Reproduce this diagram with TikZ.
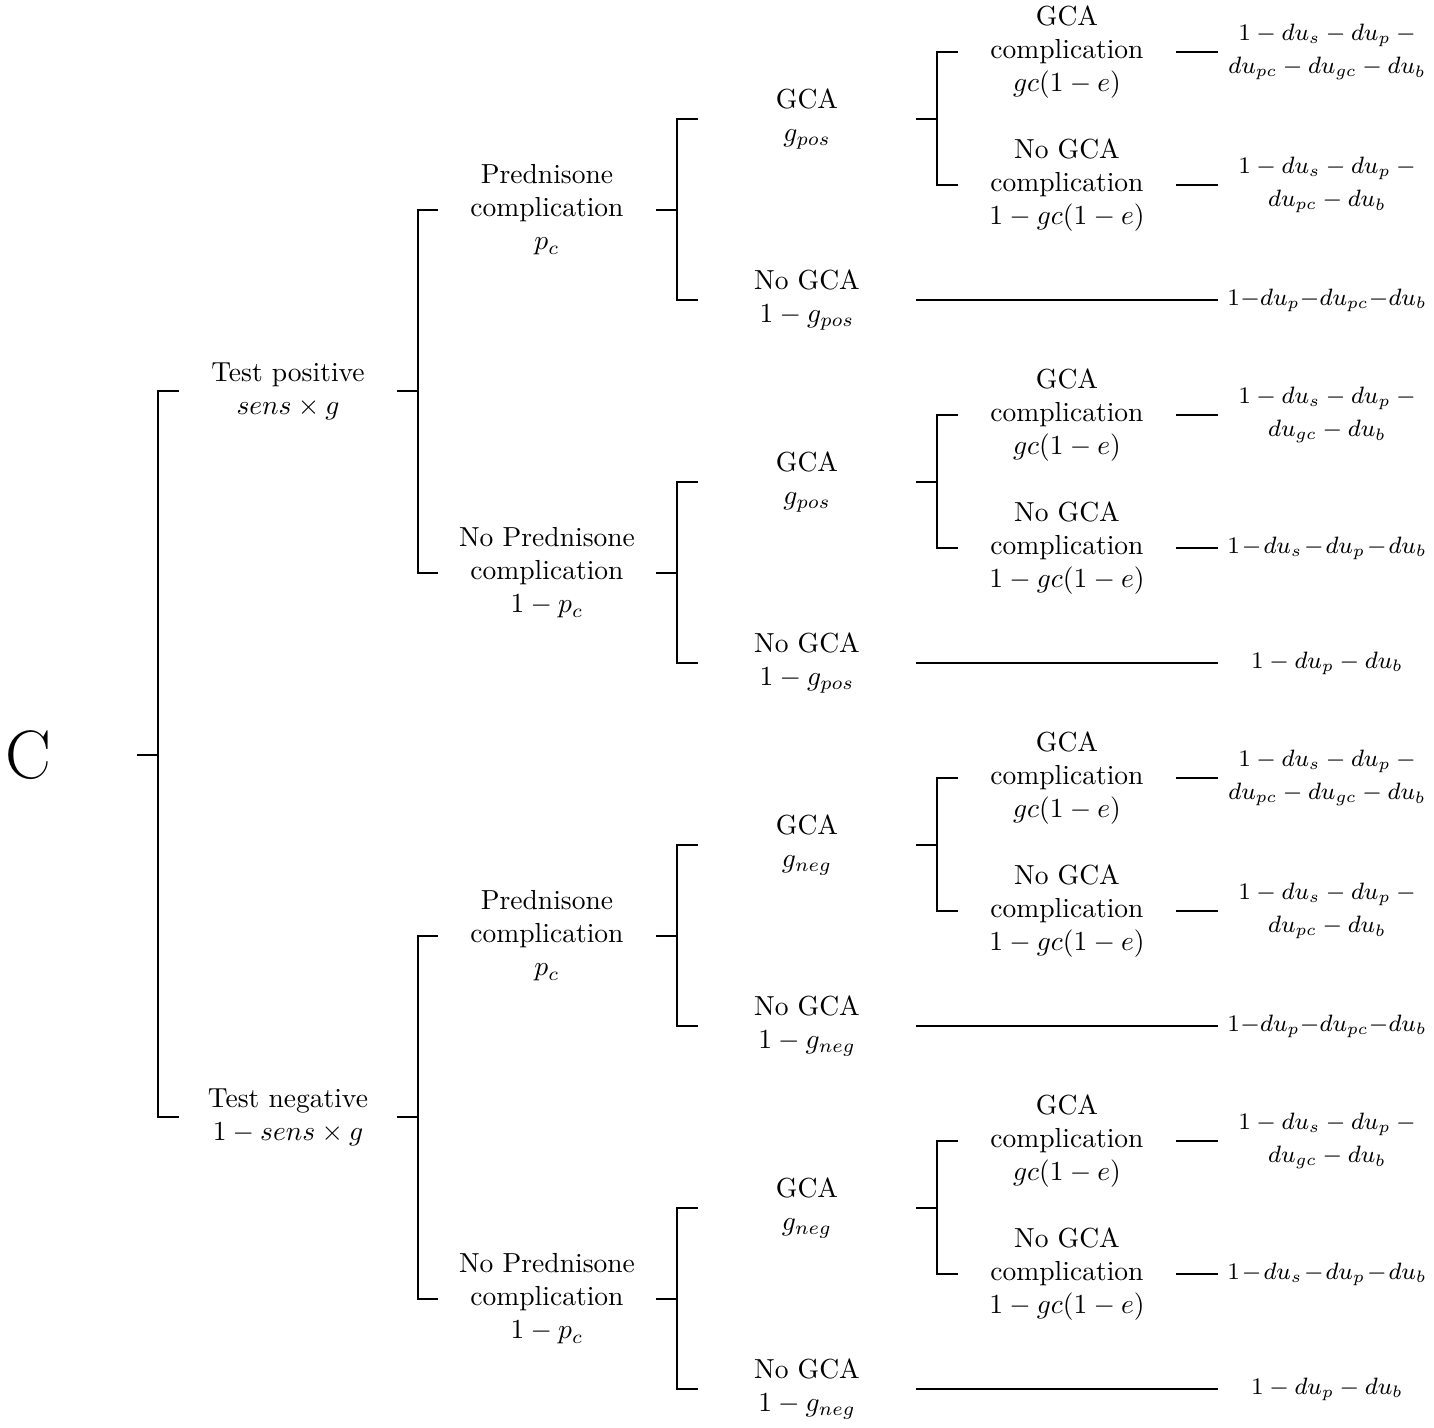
\RequirePackage{fix-cm}
\documentclass[tikz,border=0pt]{standalone}
\usepackage{tikz}

\begin{document}
\begin{tikzpicture}[
  x=0.363pt, y=-0.363pt,
  choice/.style={text width=1in, align=flush center, inner sep=3.33pt},
  payoff/.style={text width=1in, align=flush center, inner sep=3.33pt, font={\fontsize{8.6}{12}\selectfont}},
  fork/.style={thick}
]
\useasboundingbox (0,0) rectangle (1434,1428);
\node[font=\Huge] (root) at (28,755) {C};
\coordinate (rootstub) at (137,755);
\node[choice] (pos) at (288,391) {Test positive\\$sens\times g$};
\node[choice] (neg) at (288,1117) {Test negative\\$1-sens\times g$};
\node[choice] (pospc) at (547,210) {Prednisone\\complication\\$p_c$};
\node[choice] (posnopc) at (547,573) {No Prednisone\\complication\\$1-p_c$};
\node[choice] (negpc) at (547,936) {Prednisone\\complication\\$p_c$};
\node[choice] (negnopc) at (547,1299) {No Prednisone\\complication\\$1-p_c$};
\node[choice] (pospcg) at (807,119) {GCA\\$g_{pos}$};
\node[choice] (pospcng) at (807,300) {No GCA\\$1-g_{pos}$};
\node[choice] (posnopcg) at (807,482) {GCA\\$g_{pos}$};
\node[choice] (posnopcng) at (807,663) {No GCA\\$1-g_{pos}$};
\node[choice] (negpcg) at (807,845) {GCA\\$g_{neg}$};
\node[choice] (negpcng) at (807,1026) {No GCA\\$1-g_{neg}$};
\node[choice] (negnopcg) at (807,1208) {GCA\\$g_{neg}$};
\node[choice] (negnopcng) at (807,1389) {No GCA\\$1-g_{neg}$};
\node[choice] (pospcgc) at (1067,52) {GCA\\complication\\$gc(1-e)$};
\node[choice] (pospcgnc) at (1067,185) {No GCA\\complication\\$1-gc(1-e)$};
\node[choice] (posnopcgc) at (1067,415) {GCA\\complication\\$gc(1-e)$};
\node[choice] (posnopcgnc) at (1067,548) {No GCA\\complication\\$1-gc(1-e)$};
\node[choice] (negpcgc) at (1067,778) {GCA\\complication\\$gc(1-e)$};
\node[choice] (negpcgnc) at (1067,911) {No GCA\\complication\\$1-gc(1-e)$};
\node[choice] (negnopcgc) at (1067,1141) {GCA\\complication\\$gc(1-e)$};
\node[choice] (negnopcgnc) at (1067,1274) {No GCA\\complication\\$1-gc(1-e)$};
\node[payoff] (pospcgcu) at (1327,52) {$1-du_s-du_p-du_{pc}-du_{gc}-du_b$};
\node[payoff] (pospcgncu) at (1327,185) {$1-du_s-du_p-du_{pc}-du_b$};
\node[payoff] (pospcngu) at (1327,300) {$1-du_p-du_{pc}-du_b$};
\node[payoff] (posnopcgcu) at (1327,415) {$1-du_s-du_p-du_{gc}-du_b$};
\node[payoff] (posnopcgncu) at (1327,548) {$1-du_s-du_p-du_b$};
\node[payoff] (posnopcngu) at (1327,663) {$1-du_p-du_b$};
\node[payoff] (negpcgcu) at (1327,778) {$1-du_s-du_p-du_{pc}-du_{gc}-du_b$};
\node[payoff] (negpcgncu) at (1327,911) {$1-du_s-du_p-du_{pc}-du_b$};
\node[payoff] (negpcngu) at (1327,1026) {$1-du_p-du_{pc}-du_b$};
\node[payoff] (negnopcgcu) at (1327,1141) {$1-du_s-du_p-du_{gc}-du_b$};
\node[payoff] (negnopcgncu) at (1327,1274) {$1-du_s-du_p-du_b$};
\node[payoff] (negnopcngu) at (1327,1389) {$1-du_p-du_b$};
\draw[fork] (rootstub) -- ++(21,0) |- (pos.west);
\draw[fork] (rootstub) -- ++(21,0) |- (neg.west);
\draw[fork] (pos.east) -- ++(21,0) |- (pospc.west);
\draw[fork] (pos.east) -- ++(21,0) |- (posnopc.west);
\draw[fork] (neg.east) -- ++(21,0) |- (negpc.west);
\draw[fork] (neg.east) -- ++(21,0) |- (negnopc.west);
\draw[fork] (pospc.east) -- ++(21,0) |- (pospcg.west);
\draw[fork] (pospc.east) -- ++(21,0) |- (pospcng.west);
\draw[fork] (posnopc.east) -- ++(21,0) |- (posnopcg.west);
\draw[fork] (posnopc.east) -- ++(21,0) |- (posnopcng.west);
\draw[fork] (negpc.east) -- ++(21,0) |- (negpcg.west);
\draw[fork] (negpc.east) -- ++(21,0) |- (negpcng.west);
\draw[fork] (negnopc.east) -- ++(21,0) |- (negnopcg.west);
\draw[fork] (negnopc.east) -- ++(21,0) |- (negnopcng.west);
\draw[fork] (pospcg.east) -- ++(21,0) |- (pospcgc.west);
\draw[fork] (pospcg.east) -- ++(21,0) |- (pospcgnc.west);
\draw[fork] (posnopcg.east) -- ++(21,0) |- (posnopcgc.west);
\draw[fork] (posnopcg.east) -- ++(21,0) |- (posnopcgnc.west);
\draw[fork] (negpcg.east) -- ++(21,0) |- (negpcgc.west);
\draw[fork] (negpcg.east) -- ++(21,0) |- (negpcgnc.west);
\draw[fork] (negnopcg.east) -- ++(21,0) |- (negnopcgc.west);
\draw[fork] (negnopcg.east) -- ++(21,0) |- (negnopcgnc.west);
\draw[fork] (pospcgc) -- (pospcgcu);
\draw[fork] (pospcgnc) -- (pospcgncu);
\draw[fork] (pospcng) -- (pospcngu);
\draw[fork] (posnopcgc) -- (posnopcgcu);
\draw[fork] (posnopcgnc) -- (posnopcgncu);
\draw[fork] (posnopcng) -- (posnopcngu);
\draw[fork] (negpcgc) -- (negpcgcu);
\draw[fork] (negpcgnc) -- (negpcgncu);
\draw[fork] (negpcng) -- (negpcngu);
\draw[fork] (negnopcgc) -- (negnopcgcu);
\draw[fork] (negnopcgnc) -- (negnopcgncu);
\draw[fork] (negnopcng) -- (negnopcngu);
\end{tikzpicture}
\end{document}
